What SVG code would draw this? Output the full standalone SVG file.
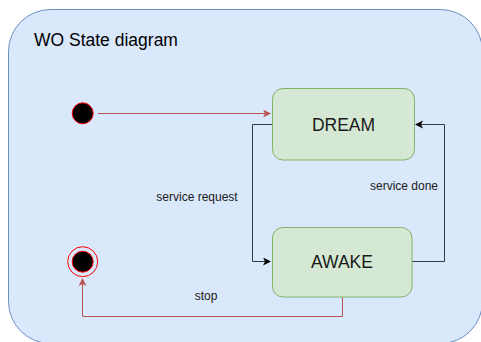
<svg xmlns="http://www.w3.org/2000/svg" width="481" height="342" viewBox="0 0 481 342">
<style>
.state{fill:#d5e8d4;stroke:#82b366;stroke-width:1}
.lbl{font-family:"Liberation Sans",Arial,sans-serif;font-size:12px;fill:#1a1a1a}
.name{font-family:"Liberation Sans",Arial,sans-serif;font-size:17.5px;fill:#1a1a1a;text-anchor:middle}
.blk{fill:none;stroke:#36393d;stroke-width:1}
.red{fill:none;stroke:#b85450;stroke-width:1}
</style>
<defs>
<marker id="ab" markerWidth="10" markerHeight="10" refX="7" refY="4" orient="auto" markerUnits="userSpaceOnUse"><path d="M0,0 L8,4 L0,8 L2,4 Z" fill="#000"/></marker>
<marker id="ar" markerWidth="10" markerHeight="10" refX="7" refY="4" orient="auto" markerUnits="userSpaceOnUse"><path d="M0,0 L8,4 L0,8 L2,4 Z" fill="#b85450"/></marker>
</defs>
<g id="container">
<rect x="8.5" y="9.5" width="474" height="334" rx="42" ry="42" fill="#dae8fc" stroke="#6c8ebf"/>
<text x="34" y="46" font-family="'Liberation Sans',Arial,sans-serif" font-size="17.5" fill="#000">WO State diagram</text>
</g>
<g id="connectors">
<path class="red" d="M98,113.5 H270" marker-end="url(#ar)"/>
<path class="blk" d="M272,124.5 H252.5 V261.5 H270" marker-end="url(#ab)"/>
<path class="blk" d="M412,261.5 H444.5 V124.5 H416" marker-end="url(#ab)"/>
<path class="red" d="M342.5,297 V316.5 H82.5 V279" marker-end="url(#ar)"/>
<text class="lbl" x="197" y="201" text-anchor="middle">service request</text>
<text class="lbl" x="404" y="190" text-anchor="middle">service done</text>
<text class="lbl" x="206" y="300" text-anchor="middle">stop</text>
</g>
<g id="start">
<circle cx="82.7" cy="113.3" r="10.5" fill="#000" stroke="#ff0000" stroke-width="1"/>
</g>
<g id="dream">
<rect class="state" x="272.5" y="88.5" width="142" height="71.5" rx="10.5"/>
<text class="name" x="343.5" y="130.5">DREAM</text>
</g>
<g id="awake">
<rect class="state" x="272.5" y="227.5" width="139.5" height="69.5" rx="10.5"/>
<text class="name" x="342" y="268">AWAKE</text>
</g>
<g id="end">
<circle cx="82.7" cy="261.7" r="15" fill="none" stroke="#ff0000" stroke-width="1"/>
<circle cx="82.7" cy="261.7" r="10.5" fill="#000" stroke="#ff0000" stroke-width="1"/>
</g>
</svg>
